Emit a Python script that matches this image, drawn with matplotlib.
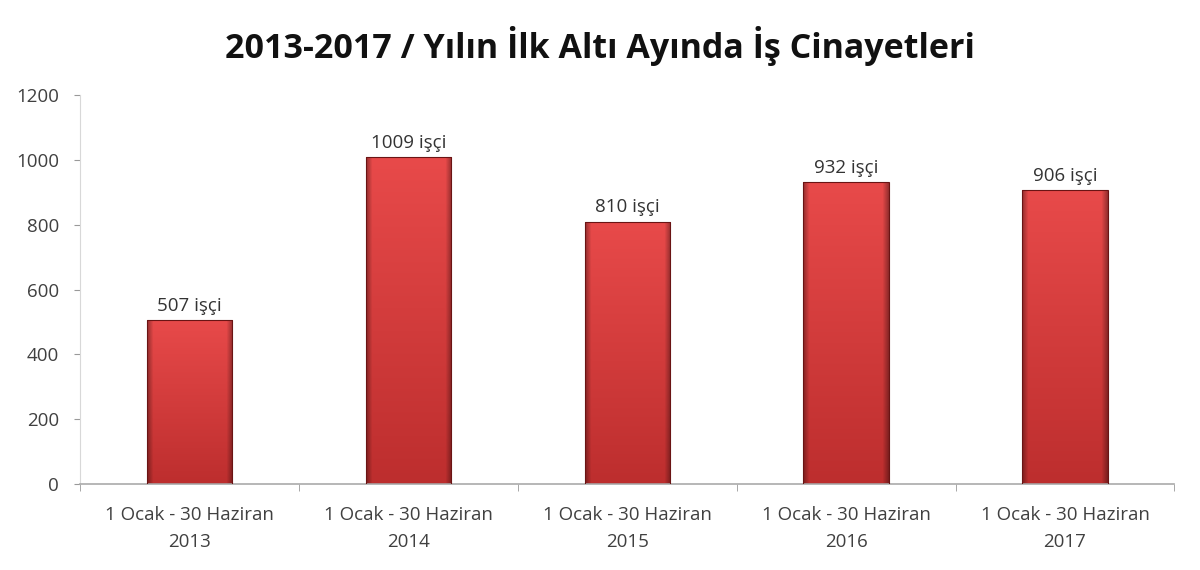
import numpy as np
import matplotlib
matplotlib.use("Agg")
import matplotlib.pyplot as plt

years = ["2013", "2014", "2015", "2016", "2017"]
period = "1 Ocak - 30 Haziran"
values = [507, 1009, 810, 932, 906]
bar_labels = ["507 işçi", "1009 işçi", "810 işçi", "932 işçi", "906 işçi"]
yticks = [0, 200, 400, 600, 800, 1000, 1200]

plt.rcParams['font.family'] = ['Open Sans', 'DejaVu Sans']

fig = plt.figure(figsize=(12, 5.7), dpi=100)
ax = fig.add_axes([0.0667, 0.151, 0.912, 0.682])

x = np.arange(len(values))
width = 0.39

# bar shading: brighter at top, darker at bottom, thin dark side edges
top = np.array([0.91, 0.29, 0.29])
bot = np.array([0.74, 0.18, 0.18])
t = np.linspace(0, 1, 200).reshape(-1, 1, 1)
shade = top * (1 - t) + bot * t          # rows: top -> bottom
u = np.linspace(0, 1, 100)
edge = 1 - 0.35 * (np.clip(1 - u / 0.07, 0, 1) + np.clip(1 - (1 - u) / 0.07, 0, 1))
img = shade * edge.reshape(1, -1, 1)
img = np.clip(img, 0, 1)

bars = ax.bar(x, values, width, color="none", edgecolor="#6a1414", linewidth=0.8, zorder=3)
for b in bars:
    x0, y0 = b.get_x(), b.get_y()
    w, h = b.get_width(), b.get_height()
    im = ax.imshow(img, aspect="auto", extent=[x0, x0 + w, y0, y0 + h],
                   origin="upper", zorder=2, interpolation="bilinear")
    im.set_clip_path(b)

for xi, v, lab in zip(x, values, bar_labels):
    ax.text(xi, v + 16, lab, ha="center", va="bottom", fontsize=13.5, color="#333333")

ax.set_xlim(-0.5, len(values) - 0.5)
ax.set_ylim(0, 1200)
ax.set_yticks(yticks)
ax.set_yticklabels([str(t) for t in yticks], fontsize=13.5, color="#404040")
ax.set_xticks(x)
ax.set_xticklabels([period + "\n" + y for y in years], fontsize=13.5, color="#404040", linespacing=1.6)
ax.tick_params(axis="x", length=0, pad=16)
ax.set_xticks(np.arange(-0.5, len(values)), minor=True)
ax.tick_params(axis="x", which="minor", length=5, color="#999999")
ax.tick_params(axis="y", length=4, color="#999999", pad=11)

for s in ["top", "right"]:
    ax.spines[s].set_visible(False)
ax.spines["left"].set_color("#d8d8d8")
ax.spines["bottom"].set_color("#aaaaaa")
ax.spines["bottom"].set_linewidth(1.2)

fig.text(0.5, 0.92, "2013-2017 / Yılın İlk Altı Ayında İş Cinayetleri",
         ha="center", va="center", fontsize=24.5, fontweight="bold", color="#111111")

fig.savefig("out.png", dpi=100)
